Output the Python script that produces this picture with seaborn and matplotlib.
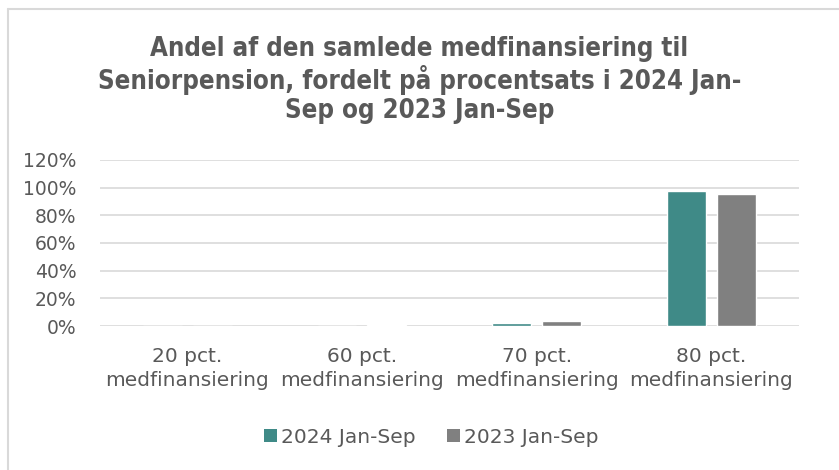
import matplotlib
matplotlib.use("Agg")
import matplotlib.pyplot as plt
from matplotlib.lines import Line2D
from matplotlib.patches import Patch
import seaborn as sns
import pandas as pd

categories = ["20 pct.\nmedfinansiering", "60 pct.\nmedfinansiering",
              "70 pct.\nmedfinansiering", "80 pct.\nmedfinansiering"]
series = ["2024 Jan-Sep", "2023 Jan-Sep"]
share_2024 = [0.0, 0.3, 2.1, 97.6]
share_2023 = [0.1, 0.8, 3.6, 95.5]
y_ticks = [0, 20, 40, 60, 80, 100, 120]
colors = ["#3F8A87", "#808080"]

df = pd.DataFrame({
    "kategori": categories * 2,
    "periode": [series[0]] * 4 + [series[1]] * 4,
    "andel": share_2024 + share_2023,
})

sns.set_theme(style="white")
plt.rcParams["font.family"] = ["DejaVu Sans"]
text_color = "#595959"

fig = plt.figure(figsize=(8.39, 4.70), dpi=100)
ax = fig.add_axes([0.119, 0.306, 0.833, 0.354])

sns.barplot(data=df, x="kategori", y="andel", hue="periode",
            hue_order=series, palette=colors, width=0.571, gap=0.22,
            saturation=1, ax=ax, legend=False)

ax.set_xlim(-0.5, 3.5)
ax.set_ylim(0, 120)
ax.set_yticks(y_ticks)
ax.set_yticklabels([f"{t}%" for t in y_ticks])
ax.yaxis.grid(True, color="#D9D9D9", linewidth=1.2)
ax.set_axisbelow(True)
for s in ax.spines.values():
    s.set_visible(False)
ax.set_xlabel("")
ax.set_ylabel("")
ax.tick_params(axis="y", colors=text_color, labelsize=13.5, length=0, pad=17)
ax.tick_params(axis="x", colors=text_color, labelsize=14.5, length=0, pad=15)
for lbl in ax.get_xticklabels():
    lbl.set_linespacing(1.3)

fig.text(0.5, 0.83, "Andel af den samlede medfinansiering til\n"
         "Seniorpension, fordelt på procentsats i 2024 Jan-\n"
         "Sep og 2023 Jan-Sep",
         ha="center", va="center", fontsize=18.5, fontweight="bold",
         color=text_color, linespacing=1.15, fontstretch="condensed")

handles = [Patch(facecolor=c, edgecolor="none") for c in colors]
fig.legend(handles, series, loc="center", bbox_to_anchor=(0.514, 0.07),
           ncol=2, frameon=False, fontsize=14.5, handlelength=0.6,
           handleheight=0.6, handletextpad=0.2, columnspacing=1.6,
           labelcolor=text_color)

# chart frame (left and top edges)
fig.add_artist(Line2D([8 / 839, 8 / 839], [0, 1 - 9 / 470],
                      transform=fig.transFigure, color="#D9D9D9", lw=1.5))
fig.add_artist(Line2D([8 / 839, 1], [1 - 9 / 470, 1 - 9 / 470],
                      transform=fig.transFigure, color="#D9D9D9", lw=1.5))

fig.savefig("out.png", dpi=100, facecolor="white")
